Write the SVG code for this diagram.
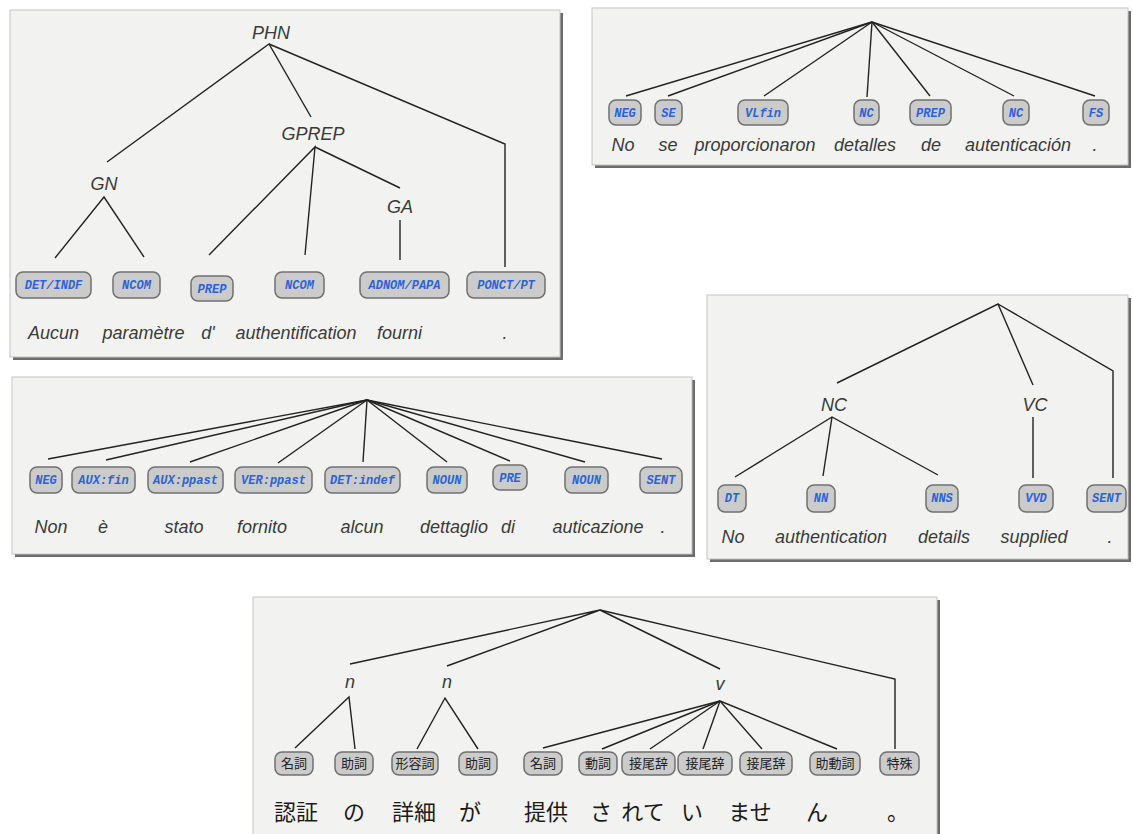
<svg xmlns="http://www.w3.org/2000/svg" width="1133" height="834" viewBox="0 0 1133 834">
<defs>
<style>
.shadow{fill:#6c6c6c}
.panel{fill:#f2f2f0;stroke:#c4c4c4;stroke-width:1}
.lbl{font-family:"Liberation Sans",Arial,sans-serif;font-style:italic;font-size:18px;fill:#3a3a3a;text-anchor:middle}
.tag rect{fill:#cbcbcb;stroke:#707070;stroke-width:1.5}
.tag text{font-family:"Liberation Mono","Courier New",monospace;font-weight:bold;font-style:italic;font-size:12px;fill:#2b63d6;text-anchor:middle}
.jtag rect{fill:#cbcbcb;stroke:#707070;stroke-width:1.5}
.jtag text{font-family:"Noto Sans CJK JP","Noto Sans CJK SC",sans-serif;font-size:13px;fill:#222;text-anchor:middle}
.jw{font-family:"Noto Sans CJK JP","Noto Sans CJK SC",sans-serif;font-size:22px;fill:#1a1a1a;text-anchor:middle}
.edges{fill:none;stroke:#222;stroke-width:1.4}
</style>
</defs>
<rect width="1133" height="834" fill="#ffffff"/>

<!-- Panel 1 -->
<g id="panel1">
<rect class="shadow" x="13" y="13" width="550" height="347"/>
<rect class="panel" x="10" y="10" width="550" height="347"/>
<g class="edges" id="p1-connectors">
<polyline points="107,162 269,44 311,117"/>
<polyline points="269,44 505,144 505,267"/>
<polyline points="209,255 315,147 305,255"/>
<line x1="315" y1="147" x2="400" y2="188"/>
<polyline points="55,258 104,197 144,257"/>
<line x1="400" y1="220" x2="400" y2="260"/>
</g>
<g id="p1-PHN"><text class="lbl" x="271" y="39">PHN</text></g>
<g id="p1-GPREP"><text class="lbl" x="313" y="140">GPREP</text></g>
<g id="p1-GN"><text class="lbl" x="104" y="190">GN</text></g>
<g id="p1-GA"><text class="lbl" x="400" y="213">GA</text></g>
<g id="p1-t1" class="tag"><rect x="16" y="272" width="75" height="26" rx="7"/><text x="53.5" y="289">DET/INDF</text></g>
<g id="p1-t2" class="tag"><rect x="113" y="272" width="47" height="26" rx="7"/><text x="136.5" y="289">NCOM</text></g>
<g id="p1-t3" class="tag"><rect x="191" y="276" width="42" height="25" rx="7"/><text x="212" y="293">PREP</text></g>
<g id="p1-t4" class="tag"><rect x="275" y="272" width="49" height="26" rx="7"/><text x="299.5" y="289">NCOM</text></g>
<g id="p1-t5" class="tag"><rect x="360" y="272" width="89" height="26" rx="7"/><text x="404.5" y="289">ADNOM/PAPA</text></g>
<g id="p1-t6" class="tag"><rect x="467" y="272" width="78" height="26" rx="7"/><text x="506" y="289">PONCT/PT</text></g>
<g id="p1-words">
<text class="lbl" x="53.5" y="339">Aucun</text>
<text class="lbl" x="143.5" y="339">paramètre</text>
<text class="lbl" x="208" y="339">d'</text>
<text class="lbl" x="296" y="339">authentification</text>
<text class="lbl" x="399.5" y="339">fourni</text>
<text class="lbl" x="505" y="339">.</text>
</g>
</g>

<!-- Panel 2 -->
<g id="panel2">
<rect class="shadow" x="595" y="11" width="536" height="157"/>
<rect class="panel" x="592" y="8" width="536" height="157"/>
<g class="edges" id="p2-connectors">
<line x1="872" y1="22" x2="626" y2="96"/>
<line x1="872" y1="22" x2="668" y2="96"/>
<line x1="872" y1="22" x2="764" y2="96"/>
<line x1="872" y1="22" x2="867" y2="97"/>
<line x1="872" y1="22" x2="930" y2="96"/>
<line x1="872" y1="22" x2="1014" y2="96"/>
<line x1="872" y1="22" x2="1095" y2="96"/>
</g>
<g id="p2-t1" class="tag"><rect x="609" y="100" width="32" height="25" rx="7"/><text x="625" y="117">NEG</text></g>
<g id="p2-t2" class="tag"><rect x="655" y="100" width="27" height="25" rx="7"/><text x="668.5" y="117">SE</text></g>
<g id="p2-t3" class="tag"><rect x="738" y="100" width="50" height="25" rx="7"/><text x="763" y="117">VLfin</text></g>
<g id="p2-t4" class="tag"><rect x="854" y="100" width="25" height="25" rx="7"/><text x="866.5" y="117">NC</text></g>
<g id="p2-t5" class="tag"><rect x="910" y="100" width="41" height="25" rx="7"/><text x="930.5" y="117">PREP</text></g>
<g id="p2-t6" class="tag"><rect x="1003" y="100" width="26" height="25" rx="7"/><text x="1016" y="117">NC</text></g>
<g id="p2-t7" class="tag"><rect x="1083" y="100" width="26" height="25" rx="7"/><text x="1096" y="117">FS</text></g>
<g id="p2-words">
<text class="lbl" x="623" y="151">No</text>
<text class="lbl" x="668" y="151">se</text>
<text class="lbl" x="755" y="151">proporcionaron</text>
<text class="lbl" x="865" y="151">detalles</text>
<text class="lbl" x="931" y="151">de</text>
<text class="lbl" x="1018" y="151">autenticación</text>
<text class="lbl" x="1095" y="151">.</text>
</g>
</g>

<!-- Panel 3 -->
<g id="panel3">
<rect class="shadow" x="15" y="380" width="680" height="177"/>
<rect class="panel" x="12" y="377" width="680" height="177"/>
<g class="edges" id="p3-connectors">
<line x1="367" y1="400" x2="48" y2="459"/>
<line x1="367" y1="400" x2="106" y2="460"/>
<line x1="367" y1="400" x2="190" y2="462"/>
<line x1="367" y1="400" x2="278" y2="463"/>
<line x1="367" y1="400" x2="363" y2="462"/>
<line x1="367" y1="400" x2="447" y2="462"/>
<line x1="367" y1="400" x2="510" y2="461"/>
<line x1="367" y1="400" x2="585" y2="462"/>
<line x1="367" y1="400" x2="662" y2="459"/>
</g>
<g id="p3-t1" class="tag"><rect x="30" y="467" width="32" height="26" rx="7"/><text x="46" y="484">NEG</text></g>
<g id="p3-t2" class="tag"><rect x="72" y="467" width="63" height="26" rx="7"/><text x="103.5" y="484">AUX:fin</text></g>
<g id="p3-t3" class="tag"><rect x="148" y="467" width="75" height="26" rx="7"/><text x="185.5" y="484">AUX:ppast</text></g>
<g id="p3-t4" class="tag"><rect x="235" y="467" width="77" height="26" rx="7"/><text x="273.5" y="484">VER:ppast</text></g>
<g id="p3-t5" class="tag"><rect x="325" y="467" width="75" height="26" rx="7"/><text x="362.5" y="484">DET:indef</text></g>
<g id="p3-t6" class="tag"><rect x="427" y="467" width="40" height="26" rx="7"/><text x="447" y="484">NOUN</text></g>
<g id="p3-t7" class="tag"><rect x="493" y="465" width="34" height="25" rx="7"/><text x="510" y="482">PRE</text></g>
<g id="p3-t8" class="tag"><rect x="565" y="467" width="43" height="26" rx="7"/><text x="586.5" y="484">NOUN</text></g>
<g id="p3-t9" class="tag"><rect x="640" y="467" width="42" height="26" rx="7"/><text x="661" y="484">SENT</text></g>
<g id="p3-words">
<text class="lbl" x="51" y="533">Non</text>
<text class="lbl" x="103" y="533">è</text>
<text class="lbl" x="184" y="533">stato</text>
<text class="lbl" x="262" y="533">fornito</text>
<text class="lbl" x="362" y="533">alcun</text>
<text class="lbl" x="454" y="533">dettaglio</text>
<text class="lbl" x="508" y="533">di</text>
<text class="lbl" x="598" y="533">auticazione</text>
<text class="lbl" x="663" y="533">.</text>
</g>
</g>

<!-- Panel 4 -->
<g id="panel4">
<rect class="shadow" x="710" y="298" width="421" height="264"/>
<rect class="panel" x="707" y="295" width="421" height="264"/>
<g class="edges" id="p4-connectors">
<polyline points="837,383 998,304 1033,385"/>
<polyline points="998,304 1113,371 1113,478"/>
<polyline points="735,477 832,417 938,475"/>
<line x1="832" y1="417" x2="823" y2="476"/>
<line x1="1033" y1="417" x2="1033" y2="478"/>
</g>
<g id="p4-NC"><text class="lbl" x="834" y="411">NC</text></g>
<g id="p4-VC"><text class="lbl" x="1035" y="411">VC</text></g>
<g id="p4-t1" class="tag"><rect x="718" y="485" width="28" height="27" rx="7"/><text x="732" y="502">DT</text></g>
<g id="p4-t2" class="tag"><rect x="807" y="485" width="28" height="27" rx="7"/><text x="821" y="502">NN</text></g>
<g id="p4-t3" class="tag"><rect x="926" y="485" width="32" height="27" rx="7"/><text x="942" y="502">NNS</text></g>
<g id="p4-t4" class="tag"><rect x="1019" y="485" width="34" height="27" rx="7"/><text x="1036" y="502">VVD</text></g>
<g id="p4-t5" class="tag"><rect x="1087" y="485" width="39" height="27" rx="7"/><text x="1106.5" y="502">SENT</text></g>
<g id="p4-words">
<text class="lbl" x="733" y="543">No</text>
<text class="lbl" x="831" y="543">authentication</text>
<text class="lbl" x="944" y="543">details</text>
<text class="lbl" x="1034" y="543">supplied</text>
<text class="lbl" x="1110" y="543">.</text>
</g>
</g>

<!-- Panel 5 -->
<g id="panel5">
<rect class="shadow" x="256" y="600" width="684" height="250"/>
<rect class="panel" x="253" y="597" width="684" height="250"/>
<g class="edges" id="p5-connectors">
<polyline points="350,664 600,610 447,666"/>
<line x1="600" y1="610" x2="720" y2="669"/>
<polyline points="600,610 895,679 895,749"/>
<polyline points="295,748 349,697 355,749"/>
<polyline points="417,749 445,698 478,749"/>
<line x1="720" y1="701" x2="543" y2="748"/>
<line x1="720" y1="701" x2="602" y2="749"/>
<line x1="720" y1="701" x2="650" y2="749"/>
<line x1="720" y1="701" x2="703" y2="749"/>
<line x1="720" y1="701" x2="762" y2="749"/>
<line x1="720" y1="701" x2="837" y2="749"/>
</g>
<g id="p5-n1"><text class="lbl" x="350" y="688">n</text></g>
<g id="p5-n2"><text class="lbl" x="447" y="688">n</text></g>
<g id="p5-v"><text class="lbl" x="720" y="690">v</text></g>
<g id="p5-t1" class="jtag"><rect x="275" y="752" width="38" height="23" rx="7"/><text x="294" y="768">名詞</text></g>
<g id="p5-t2" class="jtag"><rect x="335" y="752" width="38" height="23" rx="7"/><text x="354" y="768">助詞</text></g>
<g id="p5-t3" class="jtag"><rect x="392" y="752" width="46" height="23" rx="7"/><text x="415" y="768">形容詞</text></g>
<g id="p5-t4" class="jtag"><rect x="459" y="752" width="38" height="23" rx="7"/><text x="478" y="768">助詞</text></g>
<g id="p5-t5" class="jtag"><rect x="524" y="752" width="38" height="23" rx="7"/><text x="543" y="768">名詞</text></g>
<g id="p5-t6" class="jtag"><rect x="579" y="752" width="38" height="23" rx="7"/><text x="598" y="768">動詞</text></g>
<g id="p5-t7" class="jtag"><rect x="622" y="752" width="53" height="23" rx="7"/><text x="648.5" y="768">接尾辞</text></g>
<g id="p5-t8" class="jtag"><rect x="678" y="752" width="54" height="23" rx="7"/><text x="705" y="768">接尾辞</text></g>
<g id="p5-t9" class="jtag"><rect x="740" y="752" width="52" height="23" rx="7"/><text x="766" y="768">接尾辞</text></g>
<g id="p5-t10" class="jtag"><rect x="810" y="752" width="50" height="23" rx="7"/><text x="835" y="768">助動詞</text></g>
<g id="p5-t11" class="jtag"><rect x="880" y="752" width="39" height="23" rx="7"/><text x="899.5" y="768">特殊</text></g>
<g id="p5-words">
<text class="jw" x="296" y="820">認証</text>
<text class="jw" x="354" y="820">の</text>
<text class="jw" x="414" y="820">詳細</text>
<text class="jw" x="470" y="820">が</text>
<text class="jw" x="546" y="820">提供</text>
<text class="jw" x="601" y="820">さ</text>
<text class="jw" x="643" y="820">れて</text>
<text class="jw" x="692" y="820">い</text>
<text class="jw" x="750" y="820">ませ</text>
<text class="jw" x="817" y="820">ん</text>
<text class="jw" x="898" y="820">。</text>
</g>
</g>
</svg>
